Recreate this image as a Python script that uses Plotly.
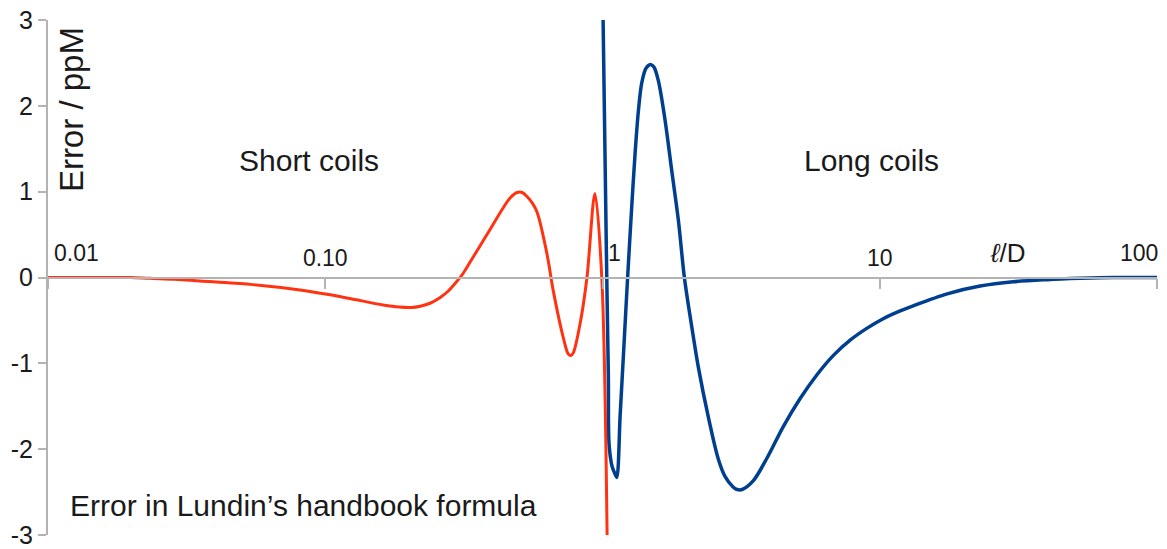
import plotly.graph_objects as go

# Short coils (red) - l/D and error in ppM
short_x = [0.01, 0.0154, 0.0198, 0.0233, 0.0287, 0.0353, 0.0535, 0.0811, 0.1014, 0.1228,
           0.1617, 0.185, 0.205, 0.220, 0.2388, 0.259, 0.2773, 0.2939, 0.3115, 0.3331,
           0.383, 0.438, 0.465, 0.492, 0.513, 0.535, 0.560, 0.581, 0.631, 0.664,
           0.722, 0.752, 0.768, 0.784, 0.830, 0.879, 0.939, 0.994, 1.039]
short_y = [0.0, 0.0, 0.0, -0.01, -0.02, -0.04, -0.08, -0.145, -0.195, -0.245,
           -0.32, -0.345, -0.35, -0.335, -0.30, -0.235, -0.16, -0.07, 0.03, 0.18,
           0.5, 0.81, 0.93, 0.99, 0.99, 0.94, 0.86, 0.76, 0.27, -0.15,
           -0.70, -0.89, -0.91, -0.88, -0.54, 0.0, 0.98, 0.0, -3.0]

# Long coils (blue)
long_x = [1.005, 1.036, 1.050, 1.056, 1.083, 1.110, 1.126, 1.158, 1.190, 1.232,
          1.276, 1.311, 1.348, 1.386, 1.437, 1.498, 1.535, 1.591, 1.682, 1.778,
          1.879, 1.974, 2.100, 2.218, 2.410, 2.619, 2.769, 2.958, 3.059, 3.188,
          3.494, 3.926, 4.483, 5.163, 5.947, 6.792, 7.820, 9.006, 10.29, 11.85,
          13.20, 17.51, 23.03, 30.28, 40.18, 52.85, 69.51, 100.0]
long_y = [3.0, 0.0, -1.16, -1.94, -2.2, -2.29, -2.33, -1.6, -0.9, 0.0,
          0.85, 1.45, 1.95, 2.27, 2.44, 2.48, 2.45, 2.29, 1.83, 1.24,
          0.66, 0.0, -0.58, -1.05, -1.63, -2.12, -2.32, -2.44, -2.47, -2.47,
          -2.37, -2.1, -1.74, -1.41, -1.13, -0.91, -0.73, -0.59, -0.48, -0.39,
          -0.33, -0.19, -0.10, -0.05, -0.025, -0.01, 0.0, 0.0]

x_tickvals = [0.01, 0.1, 1, 10, 100]
x_ticktext = ["", "0.10", "", "10", ""]
y_tickvals = [-3, -2, -1, 0, 1, 2, 3]
y_ticktext = ["-3", "-2", "-1", "0", "1", "2", "3"]

FONT = "Liberation Sans, Arial, sans-serif"
AXIS_GRAY = "#b3b3b3"
TEXT = "#1a1a1a"

fig = go.Figure()
fig.add_trace(go.Scatter(x=long_x, y=long_y, mode="lines",
                         line=dict(color="#003f8f", width=3.5, shape="spline", smoothing=0.9),
                         showlegend=False, hoverinfo="x+y"))
fig.add_trace(go.Scatter(x=short_x, y=short_y, mode="lines",
                         line=dict(color="#ff3311", width=3, shape="spline", smoothing=0.9),
                         showlegend=False, hoverinfo="x+y"))

fig.update_layout(
    width=1167, height=549,
    margin=dict(l=48, r=10, t=20, b=14),
    paper_bgcolor="white", plot_bgcolor="white",
    font=dict(family=FONT, color=TEXT),
    xaxis=dict(type="log", range=[-2, 2], anchor="free", position=0.5,
               automargin=False,
               showline=True, linecolor=AXIS_GRAY, linewidth=2,
               ticks="outside", ticklen=10, tickcolor=AXIS_GRAY, tickwidth=2,
               tickvals=x_tickvals, ticktext=x_ticktext,
               ticklabelposition="inside", ticklabeloverflow="allow",
               ticklabelstandoff=8,
               tickfont=dict(size=23, color=TEXT, family=FONT),
               showgrid=False, zeroline=False),
    yaxis=dict(range=[-3, 3], automargin=False,
               showline=True, linecolor=AXIS_GRAY, linewidth=2,
               ticks="outside", ticklen=8, tickcolor=AXIS_GRAY, tickwidth=2,
               tickvals=y_tickvals, ticktext=y_ticktext, ticklabeloverflow="allow",
               tickfont=dict(size=25, color=TEXT, family=FONT),
               showgrid=False, zeroline=False),
)

ann = [
    dict(text="Short coils", x=0.2353, y=0.727, size=30),
    dict(text="Long coils", x=0.743, y=0.727, size=30),
    dict(text="<i>ℓ</i>/D", x=0.8656, y=0.548, size=26),
    dict(text="0.01", x=0.0036, y=0.548, xanchor="left", size=23),
    dict(text="1", x=0.5104, y=0.548, size=23),
    dict(text="100", x=1.0027, y=0.548, xanchor="right", size=23),
    dict(text="Error in Lundin’s handbook formula", x=0.018, y=0.058, xanchor="left", size=30),
    dict(text="Error / ppM", x=0.0212, y=0.826, textangle=-90, size=33),
]
for a in ann:
    fig.add_annotation(xref="paper", yref="paper", showarrow=False,
                       x=a["x"], y=a["y"], text=a["text"],
                       xanchor=a.get("xanchor", "center"), yanchor="middle",
                       textangle=a.get("textangle", 0),
                       font=dict(family=FONT, color=TEXT, size=a["size"]))

fig.write_html("out.html")
